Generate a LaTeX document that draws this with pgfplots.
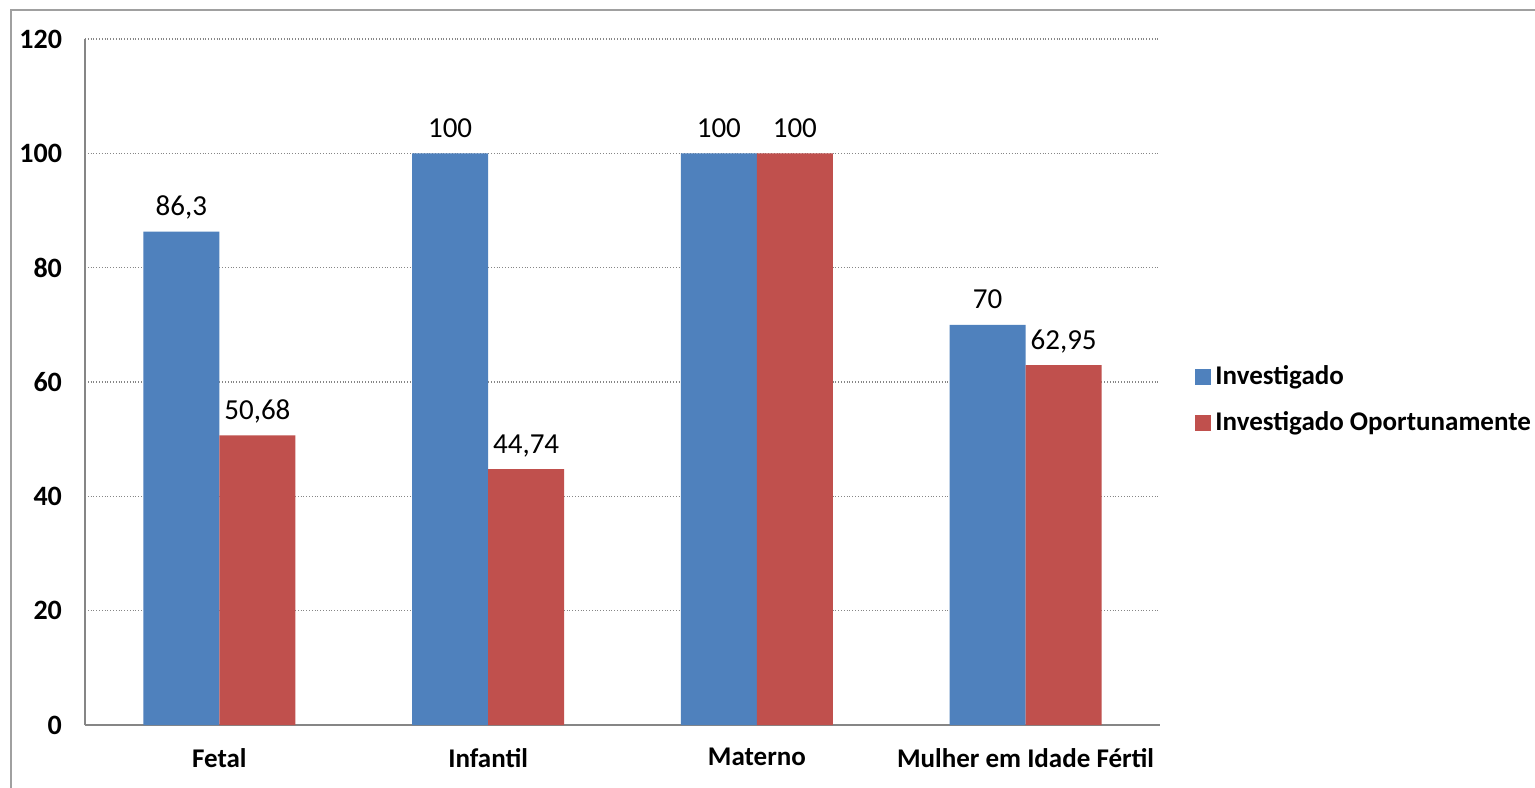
\documentclass[border=0pt]{standalone}
\usepackage{pgfplots}
\pgfplotsset{compat=1.18}
\usepackage{fontspec}
\setmainfont{Carlito}
\definecolor{barblue}{HTML}{4F81BD}
\definecolor{barred}{HTML}{C0504D}
\definecolor{axisgray}{HTML}{868686}
\definecolor{framegray}{HTML}{A0A0A0}
\begin{document}
\begin{tikzpicture}
\clip (0,0) rectangle (767.5pt,393.5pt);
\useasboundingbox (0,0) rectangle (767.5pt,393.5pt);
\fill[white] (0,0) rectangle (767.5pt,393.5pt);
\draw[framegray, line width=0.9pt] (5.5pt,-10pt) -- (5.5pt,388.5pt) -- (800pt,388.5pt);
\begin{axis}[
  at={(42.5pt,31pt)}, anchor=south west,
  scale only axis, width=537.5pt, height=343pt,
  ybar=0pt, bar width=38pt,
  xmin=-0.5, xmax=3.5, ymin=0, ymax=120,
  xtick=data,
  xticklabels={Fetal, Infantil, Materno, Mulher em Idade Fértil},
  ytick={0,20,40,60,80,100,120},
  axis x line*=bottom, axis y line*=left,
  axis line style={axisgray, line width=0.9pt, -},
  major tick length=0pt,
  ymajorgrids, grid style={axisgray, densely dotted, line width=0.6pt},
  tick label style={font=\fontsize{14}{16}\selectfont\bfseries, text=black},
  yticklabel style={xshift=-8pt},
  xticklabel style={yshift=-8pt, font=\fontsize{13.5}{16}\selectfont\bfseries},
  /pgf/number format/assume math mode=true,
  nodes near coords,
  nodes near coords style={font=\fontsize{14.5}{16}\selectfont, text=black,
    anchor=base, yshift=8pt,
    /pgf/number format/use comma, /pgf/number format/precision=2},
  legend style={draw=none, fill=none, at={(1.0326,0.474)}, anchor=west,
    font=\fontsize{13.5}{16}\selectfont\bfseries, row sep=8pt,
    inner sep=0pt, legend cell align=left},
  legend image code/.code={\fill[#1] (0pt,-4pt) rectangle (8pt,4pt);},
]
\addplot[fill=barblue, draw=none] coordinates {(0,86.3) (1,100) (2,100) (3,70)};
\addplot[fill=barred, draw=none] coordinates {(0,50.68) (1,44.74) (2,100) (3,62.95)};
\legend{Investigado, Investigado Oportunamente}
\end{axis}
\end{tikzpicture}
\end{document}
